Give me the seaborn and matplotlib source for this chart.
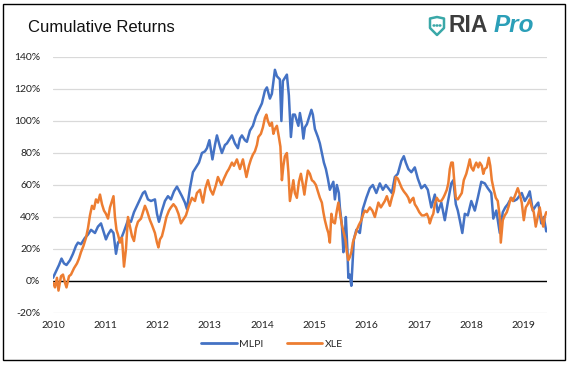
import numpy as np
import pandas as pd
import matplotlib
matplotlib.use("Agg")
import matplotlib.pyplot as plt
import matplotlib.dates as mdates
import seaborn as sns
from matplotlib.path import Path
from matplotlib.patches import PathPatch, Rectangle, Circle
from matplotlib.lines import Line2D

# ---- data (years after 2010-01-01, cumulative return in %) ----
mlpi_t = [0.000, 0.057, 0.115, 0.163, 0.210, 0.258, 0.325, 0.382, 0.440, 0.478,
          0.535, 0.612, 0.669, 0.727, 0.803, 0.860, 0.918, 0.975, 1.013, 1.052,
          1.109, 1.157, 1.205, 1.243, 1.310, 1.358, 1.434, 1.491, 1.549, 1.606,
          1.663, 1.721, 1.759, 1.816, 1.874, 1.950, 1.989, 2.027, 2.084, 2.141,
          2.199, 2.256, 2.314, 2.371, 2.419, 2.467, 2.524, 2.562, 2.620, 2.677,
          2.734, 2.792, 2.849, 2.906, 2.945, 2.992, 3.050, 3.098, 3.136, 3.193,
          3.231, 3.289, 3.327, 3.384, 3.423, 3.480, 3.537, 3.576, 3.614, 3.671,
          3.709, 3.767, 3.824, 3.881, 3.939, 3.996, 4.054, 4.092, 4.149, 4.187,
          4.245, 4.283, 4.340, 4.369, 4.398, 4.436, 4.474, 4.512, 4.551, 4.589,
          4.627, 4.665, 4.694, 4.723, 4.761, 4.790, 4.818, 4.857, 4.895, 4.943,
          4.971, 5.010, 5.067, 5.105, 5.143, 5.182, 5.220, 5.258, 5.296, 5.335,
          5.363, 5.392, 5.430, 5.468, 5.488, 5.526, 5.555, 5.583, 5.602, 5.631,
          5.650, 5.679, 5.707, 5.736, 5.755, 5.803, 5.870, 5.927, 5.994, 6.061,
          6.118, 6.185, 6.252, 6.310, 6.367, 6.415, 6.482, 6.539, 6.596, 6.663,
          6.711, 6.749, 6.797, 6.855, 6.921, 6.979, 7.046, 7.113, 7.170, 7.237,
          7.304, 7.361, 7.428, 7.495, 7.552, 7.619, 7.658, 7.706, 7.744, 7.782,
          7.830, 7.878, 7.935, 8.002, 8.069, 8.126, 8.193, 8.260, 8.317, 8.384,
          8.423, 8.480, 8.547, 8.604, 8.652, 8.700, 8.767, 8.815, 8.872, 8.920,
          8.967, 9.025, 9.082, 9.120, 9.178, 9.235, 9.283, 9.340, 9.388, 9.436]
mlpi_v = [2, 6, 10, 14, 11, 10, 13, 17, 22, 24,
          23, 27, 29, 32, 30, 34, 36, 30, 26, 29,
          32, 30, 17, 24, 27, 31, 38, 37, 43, 47,
          51, 55, 56, 51, 50, 51, 42, 37, 44, 50,
          53, 51, 56, 59, 56, 53, 49, 45, 58, 68,
          71, 74, 80, 81, 83, 88, 76, 85, 91, 84,
          80, 85, 86, 89, 91, 86, 83, 89, 91, 88,
          87, 94, 97, 103, 107, 111, 119, 121, 114, 117,
          132, 128, 126, 100, 125, 127, 129, 116, 90, 104,
          104, 100, 97, 105, 98, 89, 96, 98, 102, 107,
          104, 95, 90, 86, 80, 74, 70, 64, 57, 60,
          62, 51, 60, 55, 46, 35, 18, 28, 40, 20,
          2, 4, -3, 15, 26, 32, 30, 45, 52, 58,
          60, 55, 61, 57, 60, 58, 55, 65, 67, 75,
          78, 74, 70, 68, 71, 64, 58, 60, 57, 46,
          54, 43, 49, 38, 49, 61, 63, 48, 44, 38,
          30, 42, 41, 50, 44, 52, 62, 61, 58, 55,
          39, 44, 30, 43, 46, 48, 52, 50, 51, 53,
          55, 50, 53, 56, 44, 47, 49, 36, 40, 31]

xle_t = [0.000, 0.038, 0.076, 0.105, 0.153, 0.191, 0.229, 0.258, 0.306, 0.344,
         0.402, 0.459, 0.497, 0.535, 0.583, 0.631, 0.669, 0.707, 0.746, 0.784,
         0.822, 0.860, 0.899, 0.937, 0.975, 1.013, 1.052, 1.090, 1.128, 1.157,
         1.185, 1.214, 1.243, 1.281, 1.319, 1.358, 1.396, 1.434, 1.472, 1.511,
         1.549, 1.587, 1.625, 1.683, 1.721, 1.759, 1.797, 1.855, 1.893, 1.950,
         1.989, 2.017, 2.046, 2.084, 2.122, 2.170, 2.218, 2.256, 2.304, 2.352,
         2.400, 2.447, 2.486, 2.543, 2.600, 2.658, 2.715, 2.753, 2.811, 2.868,
         2.916, 2.964, 3.011, 3.059, 3.117, 3.155, 3.222, 3.270, 3.327, 3.365,
         3.423, 3.461, 3.518, 3.576, 3.633, 3.700, 3.748, 3.786, 3.824, 3.862,
         3.901, 3.929, 3.977, 4.015, 4.054, 4.082, 4.111, 4.149, 4.187, 4.216,
         4.245, 4.283, 4.321, 4.350, 4.379, 4.407, 4.436, 4.474, 4.503, 4.532,
         4.570, 4.598, 4.627, 4.665, 4.704, 4.742, 4.780, 4.809, 4.837, 4.876,
         4.914, 4.952, 4.990, 5.029, 5.067, 5.105, 5.143, 5.172, 5.201, 5.239,
         5.268, 5.296, 5.325, 5.354, 5.392, 5.430, 5.459, 5.488, 5.526, 5.564,
         5.593, 5.621, 5.650, 5.679, 5.707, 5.736, 5.774, 5.812, 5.851, 5.899,
         5.937, 5.966, 6.004, 6.061, 6.109, 6.157, 6.195, 6.224, 6.272, 6.310,
         6.348, 6.386, 6.444, 6.482, 6.520, 6.558, 6.596, 6.635, 6.673, 6.711,
         6.759, 6.797, 6.826, 6.864, 6.893, 6.921, 6.960, 7.007, 7.055, 7.103,
         7.151, 7.189, 7.208, 7.246, 7.275, 7.304, 7.342, 7.380, 7.428, 7.466,
         7.495, 7.533, 7.562, 7.591, 7.619, 7.648, 7.677, 7.706, 7.744, 7.782,
         7.820, 7.858, 7.906, 7.945, 7.973, 8.002, 8.040, 8.069, 8.097, 8.136,
         8.164, 8.203, 8.231, 8.260, 8.298, 8.336, 8.365, 8.394, 8.432, 8.470,
         8.508, 8.547, 8.566, 8.604, 8.642, 8.681, 8.719, 8.757, 8.795, 8.834,
         8.891, 8.930, 8.967, 9.006, 9.044, 9.082, 9.120, 9.159, 9.197, 9.235,
         9.273, 9.311, 9.350, 9.378, 9.407, 9.436]
xle_v = [-1, -4, 2, -6, 3, 4, -1, -4, 3, 4,
         8, 11, 14, 18, 22, 27, 33, 41, 47, 45,
         51, 49, 54, 48, 44, 42, 39, 46, 50, 53,
         40, 32, 29, 24, 27, 9, 20, 40, 34, 28,
         25, 33, 37, 39, 43, 47, 44, 38, 35, 30,
         24, 21, 26, 28, 33, 40, 44, 46, 48, 46,
         42, 36, 38, 41, 47, 52, 50, 55, 57, 49,
         58, 63, 57, 54, 60, 65, 60, 64, 68, 70,
         74, 72, 76, 70, 76, 65, 72, 76, 79, 81,
         85, 90, 92, 96, 102, 104, 100, 97, 99, 92,
         95, 97, 90, 84, 63, 72, 78, 80, 68, 50,
         57, 63, 55, 52, 62, 67, 60, 54, 61, 69,
         67, 63, 62, 60, 56, 52, 49, 43, 38, 33,
         30, 24, 42, 37, 36, 44, 49, 43, 35, 30,
         26, 18, 13, 15, 18, 24, 28, 32, 35, 38,
         42, 44, 43, 46, 44, 40, 45, 49, 46, 48,
         50, 53, 47, 52, 56, 65, 64, 61, 58, 56,
         54, 52, 49, 51, 52, 48, 46, 43, 41, 41,
         42, 39, 36, 40, 42, 48, 52, 50, 50, 52,
         54, 57, 61, 70, 74, 74, 62, 52, 51, 53,
         55, 63, 67, 72, 76, 71, 69, 72, 74, 71,
         74, 72, 67, 70, 71, 77, 72, 63, 57, 52,
         50, 40, 24, 38, 41, 43, 47, 52, 50, 53,
         58, 54, 49, 38, 46, 48, 51, 46, 43, 34,
         40, 46, 38, 34, 40, 43]

years = list(range(2010, 2020))
y_ticks = list(range(-20, 141, 20))
series_names = ["MLPI", "XLE"]
colors = {"MLPI": "#4472C4", "XLE": "#ED7D31"}

START = pd.Timestamp("2010-01-01")


def to_dates(t):
    return START + pd.to_timedelta(np.asarray(t) * 365.25, unit="D")


df = pd.concat([
    pd.DataFrame({"date": to_dates(mlpi_t), "ret": mlpi_v, "series": "MLPI"}),
    pd.DataFrame({"date": to_dates(xle_t), "ret": xle_v, "series": "XLE"}),
], ignore_index=True)

sns.set_theme(style="white")
plt.rcParams["font.family"] = ["Lato", "DejaVu Sans"]

W, H = 569, 366
fig = plt.figure(figsize=(W / 100, H / 100), dpi=100)
fig.patch.set_facecolor("white")

ax = fig.add_axes([53 / W, 1 - 313 / H, 494 / W, 256 / H])
sns.lineplot(data=df, x="date", y="ret", hue="series", hue_order=series_names,
             palette=colors, linewidth=1.8, ax=ax, legend=False,
             sort=False, estimator=None)

ax.set_ylim(-20, 140)
ax.set_xlim(to_dates([0.0])[0], to_dates([9.45])[0])
ax.set_yticks(y_ticks)
ax.set_yticklabels([f"{v}%" for v in y_ticks])
ax.set_xticks([pd.Timestamp(f"{y}-01-01") for y in years])
ax.xaxis.set_major_formatter(mdates.DateFormatter("%Y"))
ax.yaxis.grid(True, color="#d9d9d9", linewidth=0.9)
ax.xaxis.grid(False)
ax.set_axisbelow(True)
ax.axhline(0, color="black", linewidth=1.0, zorder=1.5)
for s in ax.spines.values():
    s.set_visible(False)
ax.tick_params(axis="both", length=0, labelsize=7.5, colors="#222222")
ax.tick_params(axis="y", pad=9)
ax.tick_params(axis="x", pad=6)
ax.set_xlabel("")
ax.set_ylabel("")

# legend
handles = [Line2D([], [], color=colors[n], lw=2, label=n) for n in series_names]
fig.legend(handles=handles, loc="center", bbox_to_anchor=(272 / W, 1 - 344 / H),
           ncol=2, frameon=False, fontsize=7.5, handlelength=3.4,
           columnspacing=2.2, handletextpad=0.25)

# outer border
fig.patches.append(Rectangle((3 / W, 1 - 360 / H), 562 / W, 356 / H,
                             transform=fig.transFigure, fill=False,
                             edgecolor="black", linewidth=1.0))

# title
fig.text(28 / W, 1 - 28 / H, "Cumulative Returns", fontsize=12,
         family=["Liberation Sans", "DejaVu Sans"], va="center", ha="left",
         color="#111111")

# logo: shield icon + text
teal = "#3aa8a8"


def px(x, y):
    return (x / W, 1 - y / H)


verts = [px(430, 18.5), px(437, 17), px(444, 18.5), px(444, 28), px(437, 35),
         px(430, 28), px(430, 18.5)]
codes = [Path.MOVETO, Path.LINETO, Path.LINETO, Path.LINETO, Path.LINETO,
         Path.LINETO, Path.CLOSEPOLY]
fig.patches.append(PathPatch(Path(verts, codes), transform=fig.transFigure,
                             facecolor="none", edgecolor=teal, linewidth=1.8,
                             joinstyle="round"))
for dx in (434, 437, 440):
    fig.patches.append(Circle(px(dx, 25.5), 0.9 / W, transform=fig.transFigure,
                              color=teal))
fig.text(448 / W, 1 - 26 / H, "RIA", fontsize=16.5, fontweight="bold",
         family=["Liberation Sans", "DejaVu Sans"], color="#3d3d3d",
         va="center", ha="left")
fig.text(494 / W, 1 - 26 / H, "Pro", fontsize=17.5, fontweight="bold", style="italic",
         family=["Liberation Sans", "DejaVu Sans"], color="#2b9fb8",
         va="center", ha="left")

fig.savefig("out.png", dpi=100, facecolor="white")
